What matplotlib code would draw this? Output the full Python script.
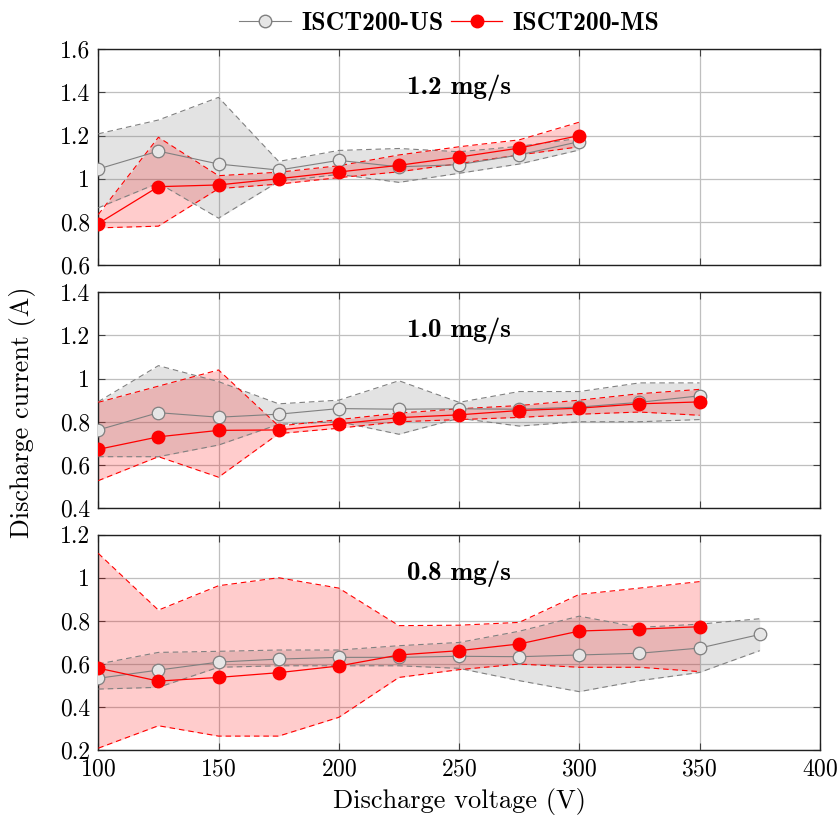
import matplotlib
matplotlib.use("Agg")
from matplotlib import pyplot as plt
from matplotlib.lines import Line2D

plt.rcParams['font.family'] = 'cmr10'
plt.rcParams['mathtext.fontset'] = 'cm'
plt.rcParams['axes.formatter.use_mathtext'] = True

# discharge voltages
v9 = [100, 125, 150, 175, 200, 225, 250, 275, 300]
v11 = [100, 125, 150, 175, 200, 225, 250, 275, 300, 325, 350]
v12 = [100, 125, 150, 175, 200, 225, 250, 275, 300, 325, 350, 375]

# 1.2 mg/s
us1 = [1.045, 1.128, 1.068, 1.04, 1.085, 1.055, 1.065, 1.11, 1.172]
us1_hi = [1.208, 1.272, 1.377, 1.08, 1.131, 1.14, 1.125, 1.15, 1.187]
us1_lo = [0.865, 0.98, 0.817, 0.987, 1.02, 0.983, 1.025, 1.068, 1.133]
ms1 = [0.792, 0.963, 0.971, 1.0, 1.031, 1.062, 1.10, 1.142, 1.20]
ms1_hi = [0.834, 1.192, 1.014, 1.03, 1.06, 1.11, 1.148, 1.18, 1.262]
ms1_lo = [0.772, 0.78, 0.954, 0.975, 1.005, 1.032, 1.07, 1.11, 1.148]

# 1.0 mg/s
us2 = [0.762, 0.842, 0.821, 0.835, 0.861, 0.858, 0.86, 0.858, 0.868, 0.89, 0.92]
us2_hi = [0.893, 1.06, 0.986, 0.883, 0.90, 0.99, 0.89, 0.94, 0.94, 0.98, 0.98]
us2_lo = [0.638, 0.638, 0.692, 0.788, 0.80, 0.742, 0.816, 0.78, 0.80, 0.80, 0.81]
ms2 = [0.672, 0.73, 0.76, 0.762, 0.79, 0.819, 0.832, 0.852, 0.863, 0.883, 0.892]
ms2_hi = [0.89, 0.965, 1.04, 0.78, 0.81, 0.84, 0.86, 0.875, 0.90, 0.93, 0.95]
ms2_lo = [0.527, 0.638, 0.543, 0.745, 0.77, 0.80, 0.81, 0.82, 0.835, 0.845, 0.83]

# 0.8 mg/s
us3 = [0.534, 0.572, 0.609, 0.623, 0.631, 0.631, 0.636, 0.634, 0.642, 0.65, 0.674, 0.737]
us3_hi = [0.60, 0.654, 0.659, 0.665, 0.665, 0.685, 0.70, 0.752, 0.822, 0.77, 0.785, 0.81]
us3_lo = [0.484, 0.492, 0.585, 0.592, 0.592, 0.592, 0.58, 0.523, 0.472, 0.523, 0.561, 0.662]
ms3 = [0.581, 0.521, 0.538, 0.56, 0.591, 0.642, 0.662, 0.693, 0.753, 0.762, 0.773]
ms3_hi = [1.113, 0.85, 0.963, 1.0, 0.952, 0.778, 0.78, 0.793, 0.923, 0.952, 0.982]
ms3_lo = [0.21, 0.314, 0.266, 0.266, 0.353, 0.538, 0.574, 0.60, 0.585, 0.585, 0.565]

panels = [
    ('1.2 mg/s', v9, us1, us1_lo, us1_hi, v9, ms1, ms1_lo, ms1_hi, (0.6, 1.6)),
    ('1.0 mg/s', v11, us2, us2_lo, us2_hi, v11, ms2, ms2_lo, ms2_hi, (0.4, 1.4)),
    ('0.8 mg/s', v12, us3, us3_lo, us3_hi, v11, ms3, ms3_lo, ms3_hi, (0.2, 1.2)),
]

gray = '#808080'
red = '#ff0000'
dash = (5, 3.5)

fig = plt.figure(figsize=(8.4, 8.25), dpi=100)
left, width, h = 0.117, 0.859, 0.2615
bottoms = [0.6788, 0.3842, 0.0905]

axes = []
for i, (title, vu, u, ulo, uhi, vm, m, mlo, mhi, ylim) in enumerate(panels):
    ax = fig.add_axes([left, bottoms[i], width, h])
    axes.append(ax)
    ax.fill_between(vu, ulo, uhi, color='gray', alpha=0.22, lw=0, zorder=2)
    ax.plot(vu, uhi, '--', color=gray, lw=0.8, dashes=dash, zorder=3)
    ax.plot(vu, ulo, '--', color=gray, lw=0.8, dashes=dash, zorder=3)
    ax.fill_between(vm, mlo, mhi, color=red, alpha=0.2, lw=0, zorder=2)
    ax.plot(vm, mhi, '--', color=red, lw=0.8, dashes=dash, zorder=3)
    ax.plot(vm, mlo, '--', color=red, lw=0.8, dashes=dash, zorder=3)
    ax.plot(vu, u, '-o', color=gray, lw=0.8, ms=9, mfc='#e6e6e6', mec=gray, mew=0.9, zorder=4)
    ax.plot(vm, m, '-o', color=red, lw=0.9, ms=9, mfc=red, mec=red, zorder=5)
    ax.set_xlim(100, 400)
    ax.set_ylim(*ylim)
    ax.set_yticks([ylim[0] + 0.2 * k for k in range(6)])
    ax.set_yticklabels(['%g' % round(ylim[0] + 0.2 * k, 1) for k in range(6)])
    ax.set_xticks(range(100, 401, 50))
    ax.grid(True, color='#bfbfbf', lw=0.9, zorder=0)
    ax.set_axisbelow(True)
    ax.tick_params(direction='in', length=5, width=0.8, colors='#404040',
                   labelcolor='black', labelsize=17, top=True, right=True, pad=6)
    for s in ax.spines.values():
        s.set_linewidth(1.0)
        s.set_color('#202020')
    ax.text(0.5, 0.82, title, transform=ax.transAxes, ha='center', va='center',
            fontsize=19.5, family='cmb10')
    if i < 2:
        ax.tick_params(labelbottom=False)

axes[2].set_xlabel('Discharge voltage (V)', fontsize=19, labelpad=5)
fig.text(0.027, 0.5, 'Discharge current (A)', rotation=90, ha='center', va='center', fontsize=18.8)

handles = [
    Line2D([], [], color=gray, lw=0.8, marker='o', ms=9, mfc='#e6e6e6', mec=gray),
    Line2D([], [], color=red, lw=0.9, marker='o', ms=9, mfc=red, mec=red),
]
fig.legend(handles, ['ISCT200-US', 'ISCT200-MS'], loc='upper center',
           bbox_to_anchor=(0.535, 1.014), ncol=2, frameon=False,
           prop={'family': 'cmb10', 'size': 18.5}, handlelength=2.0,
           handletextpad=0.4, columnspacing=0.3)

fig.savefig('out.png', dpi=100)
